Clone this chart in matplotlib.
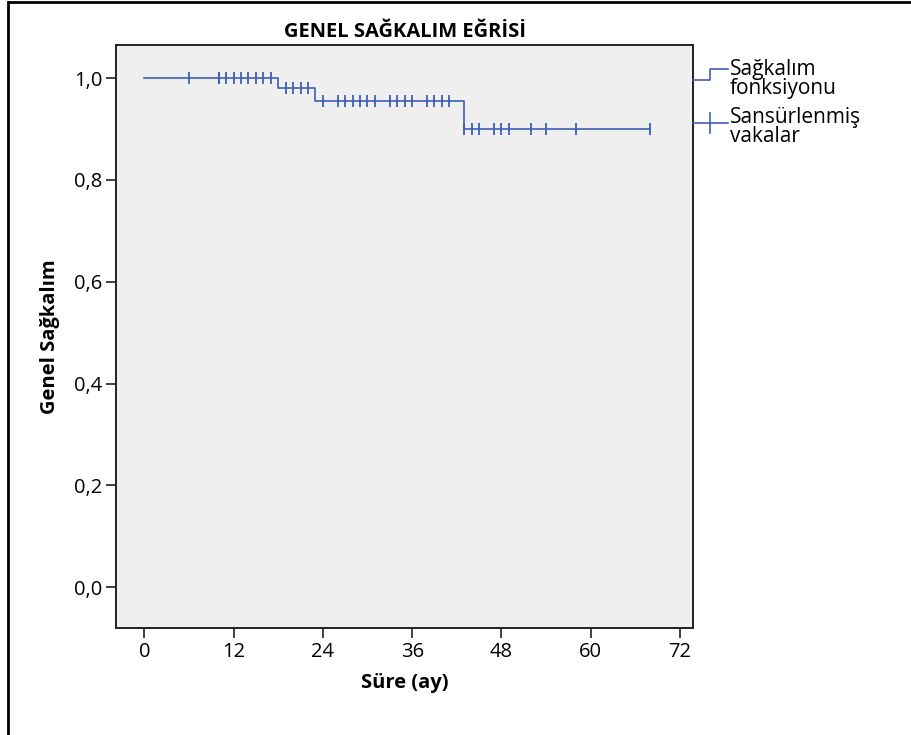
import numpy as np
import matplotlib.pyplot as plt
from matplotlib.lines import Line2D
from matplotlib.patches import Rectangle

plt.rcParams['font.family'] = ['Open Sans', 'DejaVu Sans']

# survival step function (months, survival)
step_times = [0, 18, 23, 43, 68]
step_surv = [1.0, 0.98, 0.955, 0.90, 0.90]

# censored cases (months)
censor_times = [6, 10, 10, 11, 12, 13, 14, 15, 16, 17, 19, 20, 21, 22, 24, 26, 27, 28,
                29, 30, 31, 33, 34, 35, 36, 38, 39, 40, 41, 43, 44, 45, 47, 48, 49,
                52, 54, 58, 68]

x_ticks = [0, 12, 24, 36, 48, 60, 72]
y_ticks = [0.0, 0.2, 0.4, 0.6, 0.8, 1.0]
y_labels = ['0,0', '0,2', '0,4', '0,6', '0,8', '1,0']

line_color = '#3f5fb8'
W, H = 912, 735

fig = plt.figure(figsize=(W / 100, H / 100), dpi=100)
ax = fig.add_axes([116 / W, 1 - 628 / H, (693 - 116) / W, (628 - 45) / H])
ax.set_facecolor('#efefef')

ax.step(step_times, step_surv, where='post', color=line_color, lw=1.2)

# censor marks sit on the curve value at that time
idx = np.searchsorted(step_times, censor_times, side='right') - 1
censor_y = np.array(step_surv)[idx]
ax.plot(censor_times, censor_y, ls='none', marker='|', ms=8, mew=1.3, color=line_color)

ax.set_xlim(-3.8, 73.75)
ax.set_ylim(-0.08, 1.065)
ax.set_xticks(x_ticks)
ax.set_yticks(y_ticks)
ax.set_yticklabels(y_labels)
ax.tick_params(direction='out', length=7, width=1.2, labelsize=14.5, color='#222222', pad=3)
for s in ax.spines.values():
    s.set_linewidth(1.4)
    s.set_color('#222222')

ax.set_title('GENEL SAĞKALIM EĞRİSİ', fontsize=14.5, fontweight='bold', pad=6)
ax.set_xlabel('Süre (ay)', fontsize=14.5, fontweight='bold', labelpad=8)
ax.set_ylabel('Genel Sağkalım', fontsize=14.5, fontweight='bold', labelpad=10)

# legend drawn outside the plot, like SPSS
def fx(px):
    return px / W

def fy(py):
    return 1 - py / H

fig.add_artist(Line2D([fx(693), fx(710), fx(710), fx(728)],
                      [fy(80), fy(80), fy(69), fy(69)],
                      color=line_color, lw=1.2, transform=fig.transFigure))
fig.add_artist(Line2D([fx(693), fx(728)], [fy(123), fy(123)],
                      color=line_color, lw=1.2, transform=fig.transFigure))
fig.add_artist(Line2D([fx(710), fx(710)], [fy(113), fy(133)],
                      color=line_color, lw=1.2, transform=fig.transFigure))
fig.text(fx(730), fy(79), 'Sağkalım\nfonksiyonu', fontsize=15, va='center',
         ha='left', linespacing=0.9)
fig.text(fx(730), fy(127), 'Sansürlenmiş\nvakalar', fontsize=15, va='center',
         ha='left', linespacing=0.9)

# outer frame
fig.add_artist(Rectangle((fx(8), -0.05), 1.2, fy(2) + 0.05, fill=False,
                         edgecolor='black', lw=2, transform=fig.transFigure))

fig.savefig('out.png', dpi=100)
